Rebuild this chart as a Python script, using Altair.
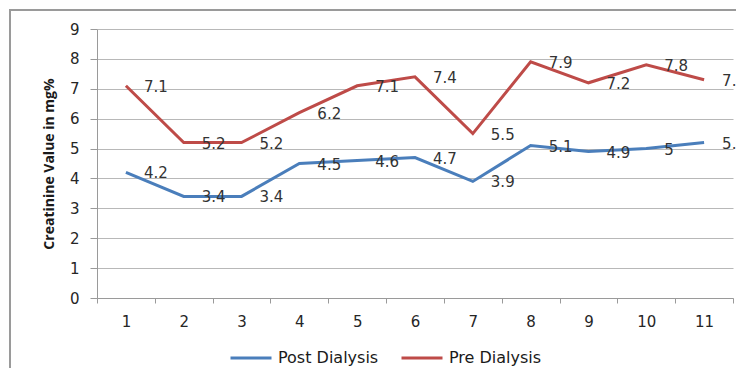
import altair as alt
import pandas as pd

days = [1, 2, 3, 4, 5, 6, 7, 8, 9, 10, 11]
post_dialysis = [4.2, 3.4, 3.4, 4.5, 4.6, 4.7, 3.9, 5.1, 4.9, 5, 5.2]
pre_dialysis = [7.1, 5.2, 5.2, 6.2, 7.1, 7.4, 5.5, 7.9, 7.2, 7.8, 7.3]
series_names = ["Post Dialysis", "Pre Dialysis"]
series_colors = ["#4a7ebb", "#be4b48"]
y_ticks = [0, 1, 2, 3, 4, 5, 6, 7, 8, 9]

rows = []
for d, v in zip(days, post_dialysis):
    rows.append({"day": d, "value": v, "series": series_names[0]})
for d, v in zip(days, pre_dialysis):
    rows.append({"day": d, "value": v, "series": series_names[1]})
df = pd.DataFrame(rows)

FONT = "DejaVu Sans"
TITLE_FONT = "Open Sans"
x_scale = alt.Scale(type="band", paddingInner=0, paddingOuter=0)
y_scale = alt.Scale(domain=[0, 9], nice=False, zero=True)

x_enc = alt.X(
    "day:O",
    scale=x_scale,
    axis=alt.Axis(
        title=None, labelAngle=0, tickBand="extent", tickSize=5,
        labelPadding=11, labelFontSize=15, labelFont=FONT, labelColor="#262626",
        domainColor="#9a9a9a", tickColor="#9a9a9a", grid=False,
    ),
)
y_enc = alt.Y(
    "value:Q",
    scale=y_scale,
    axis=alt.Axis(
        title="Creatinine Value in mg%", values=y_ticks, tickCount=20, format="d",
        tickSize=7,
        labelPadding=11, labelFontSize=15, labelFont=FONT, labelColor="#262626",
        labelOverlap=False, labelFlush=False,
        domainColor="#9a9a9a", tickColor="#9a9a9a", gridColor="#b8b8b8",
        titleFont=TITLE_FONT, titleFontSize=14, titleFontWeight="bold",
        titleColor="#1a1a1a", titlePadding=13,
    ),
)

lines = alt.Chart(df).mark_line(strokeWidth=3).encode(
    x=x_enc,
    y=y_enc,
    color=alt.Color(
        "series:N",
        scale=alt.Scale(domain=series_names, range=series_colors),
        legend=alt.Legend(
            title=None, orient="none", direction="horizontal",
            legendX=132, legendY=307, symbolType="stroke", symbolSize=1681,
            symbolStrokeWidth=3, labelFont=FONT, labelFontSize=16,
            labelColor="#1a1a1a", labelOffset=5, columnPadding=16,
        ),
    ),
)

labels = alt.Chart(df).mark_text(
    dx=18, dy=1, align="left", baseline="middle", fontSize=15, font=FONT,
    color="#333333",
).encode(
    x=alt.X("day:O"),
    y=alt.Y("value:Q"),
    text=alt.Text("value:Q"),
)

frame = alt.Chart(pd.DataFrame({"a": [0]})).mark_rect(
    fill="transparent", stroke="#9a9a9a", strokeWidth=2
).encode(
    x=alt.value(-87), x2=alt.value(720), y=alt.value(-19), y2=alt.value(420)
)

chart = alt.layer(lines, labels, frame).properties(
    width=636,
    height=269,
    background="white",
    autosize=alt.AutoSizeParams(type="none"),
    padding={"left": 89, "top": 21, "right": 3, "bottom": 70},
).configure_view(stroke=None)

chart.save("out.html", embed_options={"renderer": "svg", "actions": False})
